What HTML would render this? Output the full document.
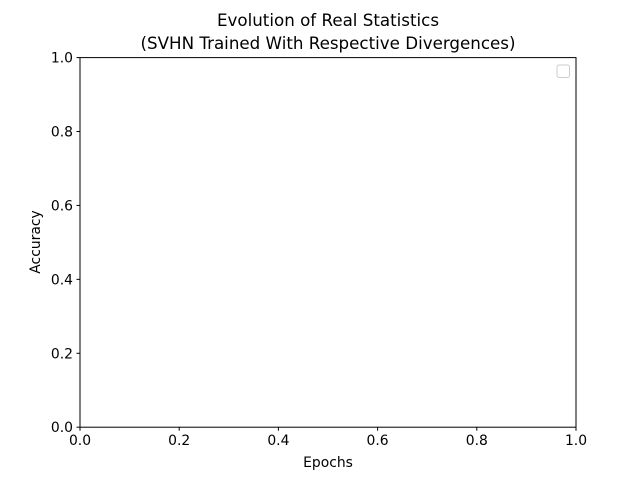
<!DOCTYPE html>
<html><head><meta charset="utf-8"><style>
body{margin:0;background:#fff}
svg text{font-family:"DejaVu Sans","Liberation Sans",sans-serif;fill:#000}
</style></head><body>
<svg id="chart" width="640" height="480" viewBox="0 0 640 480" xmlns="http://www.w3.org/2000/svg">
<rect width="640" height="480" fill="#fff"/>
<text x="328" y="26" font-size="16.7" text-anchor="middle">Evolution of Real Statistics</text>
<text x="328" y="49" font-size="16.7" text-anchor="middle">(SVHN Trained With Respective Divergences)</text>
<g id="axes"></g>
<rect x="80" y="57.6" width="496" height="369.6" fill="none" stroke="#000" stroke-width="1"/>
<rect x="557" y="65" width="12.5" height="12.5" rx="2" fill="#fff" stroke="#ccc" stroke-width="1"/>
<text x="328" y="467" font-size="13.9" text-anchor="middle">Epochs</text>
<text transform="translate(40,242) rotate(-90)" font-size="13.9" text-anchor="middle">Accuracy</text>
</svg>
<script>
const xTicks=[0.0,0.2,0.4,0.6,0.8,1.0];
const yTicks=[0.0,0.2,0.4,0.6,0.8,1.0];
const xTickLabels=["0.0","0.2","0.4","0.6","0.8","1.0"];
const yTickLabels=["0.0","0.2","0.4","0.6","0.8","1.0"];
const seriesEpochs=[];
const seriesAccuracy=[];
const L=80,R=576,T=57.6,B=427.2;
const xs=v=>L+(v-0)/(1-0)*(R-L);
const ys=v=>B-(v-0)/(1-0)*(B-T);
const NS="http://www.w3.org/2000/svg";
const g=document.getElementById('axes');
function mk(t,a){const e=document.createElementNS(NS,t);for(const k in a)e.setAttribute(k,a[k]);g.appendChild(e);return e;}
xTicks.forEach((v,i)=>{
  const x=xs(v);
  const l=mk('line',{x1:x,x2:x,y1:B,y2:B+3.5,stroke:'#000'});
  
  
  const t=mk('text',{x:x,y:B+18,'font-size':13.9,'text-anchor':'middle'});
  t.textContent=xTickLabels[i];
  
  
});
yTicks.forEach((v,i)=>{
  const y=ys(v);
  const l=mk('line',{x1:L-3.5,x2:L,y1:y,y2:y,stroke:'#000'});
  
  
  const t=mk('text',{x:L-7,y:y+5,'font-size':13.9,'text-anchor':'end'});
  t.textContent=yTickLabels[i];
  
  
});
if(seriesEpochs.length){
  const p=mk('polyline',{points:seriesEpochs.map((e,i)=>xs(e)+','+ys(seriesAccuracy[i])).join(' '),fill:'none',stroke:'#1f77b4','stroke-width':1.5});
  
  
}
</script>
</body></html>
